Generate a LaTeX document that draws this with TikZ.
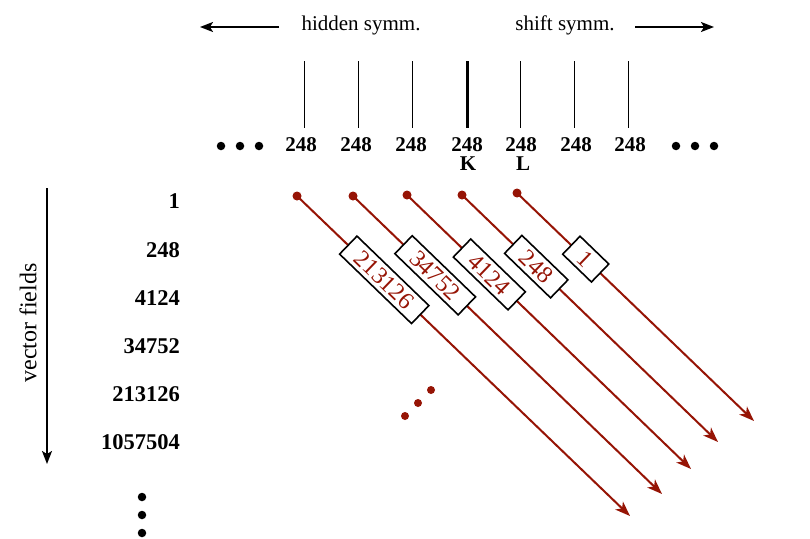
\documentclass[tikz,border=0pt]{standalone}
\usepackage{fontspec}
\setmainfont{Liberation Serif}
\usetikzlibrary{arrows.meta}
\definecolor{dred}{RGB}{150,20,5}
\begin{document}
\begin{tikzpicture}[x=1pt,y=-1pt,
  lbl/.style={font=\fontsize{21}{24}\selectfont\bfseries, inner sep=0pt},
  rlbl/.style={font=\fontsize{22.5}{26}\selectfont\bfseries, inner sep=0pt, anchor=east},
  txt/.style={font=\fontsize{21}{24}\selectfont, inner sep=0pt},
  bdot/.style={circle, fill=black, inner sep=0pt, minimum size=8.5pt},
  rdot/.style={circle, fill=dred, inner sep=0pt, minimum size=9pt},
  sdot/.style={circle, fill=dred, inner sep=0pt, minimum size=8pt},
  blackarrow/.style={line width=1.8pt, -{Stealth[length=13pt,width=10pt,inset=3pt]}},
  redarrow/.style={draw=dred, line width=2pt, -{Stealth[length=15pt,width=11pt,inset=4pt]}},
  numbox/.style={draw=black, fill=white, line width=1.6pt, rotate=-44,
     inner xsep=14pt, inner ysep=0pt, minimum height=25pt, text=dred,
     font=\fontsize{24}{26}\selectfont},
  vline/.style={line width=1pt}]
\useasboundingbox[fill=white] (0,0) rectangle (810,538);

% top arrows and labels
\node[txt] (hid) at (361,25) {hidden symm.};
\node[txt] (shi) at (565,25) {shift symm.};
\coordinate (la1) at (279,27); \coordinate (la2) at (200,27);
\coordinate (ra1) at (635,27); \coordinate (ra2) at (714,27);
\draw[blackarrow] (la1) -- (la2);
\draw[blackarrow] (ra1) -- (ra2);

% vertical ticks and 248 labels
\foreach \i/\x/\xl in {1/304/301,2/358/356,3/412/411,4/467/467,5/520/521,6/574/576,7/628/630}{
  \coordinate (t\i) at (\x,61);
  \coordinate (u\i) at (\x,128);
  \node[lbl] (n\i) at (\xl,145) {248};
}
\foreach \i in {1,2,3,5,6,7}{ \draw[vline] (t\i) -- (u\i); }
\draw[line width=3pt] (t4) -- (u4);
\node[lbl] (K) at (468,164) {K};
\node[lbl] (L) at (523,164) {L};
\node[bdot] (dl1) at (221,146) {};
\node[bdot] (dl2) at (240,146) {};
\node[bdot] (dl3) at (259,146) {};
\node[bdot] (dr1) at (676,146) {};
\node[bdot] (dr2) at (695,146) {};
\node[bdot] (dr3) at (714,146) {};

% left side
\coordinate (va1) at (47,188); \coordinate (va2) at (47,464);
\draw[blackarrow] (va1) -- (va2);
\node[txt, rotate=90, font=\fontsize{24}{26}\selectfont] (vf) at (28,323) {vector fields};
\node[rlbl] (r1) at (180,201) {1};
\node[rlbl] (r2) at (180,250) {248};
\node[rlbl] (r3) at (180,298) {4124};
\node[rlbl] (r4) at (180,346) {34752};
\node[rlbl] (r5) at (180,394) {213126};
\node[rlbl] (r6) at (180,442) {1057504};
\node[bdot] (vd1) at (142,497) {};
\node[bdot] (vd2) at (142,515) {};
\node[bdot] (vd3) at (142,533) {};

% red lines
\node[rdot] (s1) at (297,196) {};
\node[rdot] (s2) at (353,196) {};
\node[rdot] (s3) at (407,195) {};
\node[rdot] (s4) at (462,195) {};
\node[rdot] (s5) at (517,193) {};
\coordinate (e1) at (630,516);
\coordinate (e2) at (662,494);
\coordinate (e3) at (691,469);
\coordinate (e4) at (718,442);
\coordinate (e5) at (754,421);
\draw[redarrow] (s1.center) -- (e1) node[numbox, pos=0.262] (b1) {213126};
\draw[redarrow] (s2.center) -- (e2) node[numbox, pos=0.266] (b2) {34752};
\draw[redarrow] (s3.center) -- (e3) node[numbox, pos=0.29] (b3) {4124};
\draw[redarrow] (s4.center) -- (e4) node[numbox, pos=0.29] (b4) {248};
\draw[redarrow] (s5.center) -- (e5) node[numbox, pos=0.29] (b5) {1};

% red dots
\node[sdot] (m1) at (405,416) {};
\node[sdot] (m2) at (418,403) {};
\node[sdot] (m3) at (431,390) {};
\end{tikzpicture}
\end{document}
